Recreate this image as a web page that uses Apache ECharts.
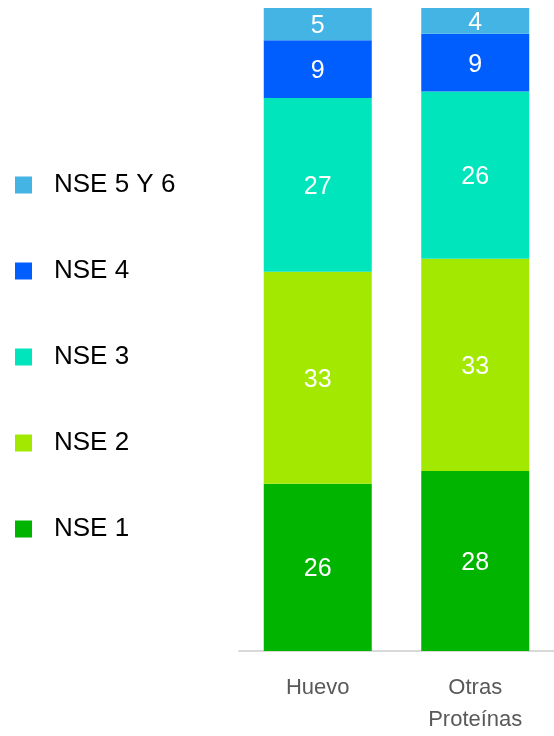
<!DOCTYPE html>
<html><head><meta charset="utf-8">
<script src="https://cdn.jsdelivr.net/npm/echarts@6/dist/echarts.min.js"></script>
<style>html,body{margin:0;padding:0;background:#fff}#c{width:554px;height:736px}</style>
</head><body><div id="c"></div>
<script>
const categories = ['Huevo', 'Otras\nProteínas'];
const seriesNames = ['NSE 1', 'NSE 2', 'NSE 3', 'NSE 4', 'NSE 5 Y 6'];
const nse1 = [26, 28];
const nse2 = [33, 33];
const nse3 = [27, 26];
const nse4 = [9, 9];
const nse56 = [5, 4];
const colors = ['#00B400', '#A2E800', '#00E5BB', '#005EFF', '#44B4E4'];
const values = [nse1, nse2, nse3, nse4, nse56];

const chart = echarts.init(document.getElementById('c'), null, {renderer: 'canvas'});
chart.setOption({
  animation: false,
  backgroundColor: '#fff',
  grid: {left: 239, width: 320, top: 8, bottom: 80, containLabel: false},
  legend: {
    orient: 'vertical', left: 10, top: 165,
    data: seriesNames.slice().reverse(),
    itemWidth: 17, itemHeight: 17, itemGap: 56,
    icon: 'rect',
    textStyle: {fontFamily: 'Liberation Sans', fontSize: 26, color: '#000', lineHeight: 30, padding: [0, 0, 0, 17]}
  },
  xAxis: {
    type: 'category', data: categories,
    axisLine: {lineStyle: {color: '#d9d9d9', width: 2}},
    axisTick: {show: false},
    axisLabel: {fontFamily: 'Liberation Sans', fontSize: 22, color: '#595959', lineHeight: 32, margin: 21}
  },
  yAxis: {type: 'value', min: 0, max: 100, show: false, splitLine: {show: false}},
  series: seriesNames.map((n, i) => ({
    name: n, type: 'bar', stack: 'a', data: values[i], barWidth: 108,
    itemStyle: {color: colors[i]},
    label: {show: true, position: 'inside', color: '#fff', fontFamily: 'Liberation Sans', fontSize: 25, offset: [0, 2]}
  }))
});
</script></body></html>
